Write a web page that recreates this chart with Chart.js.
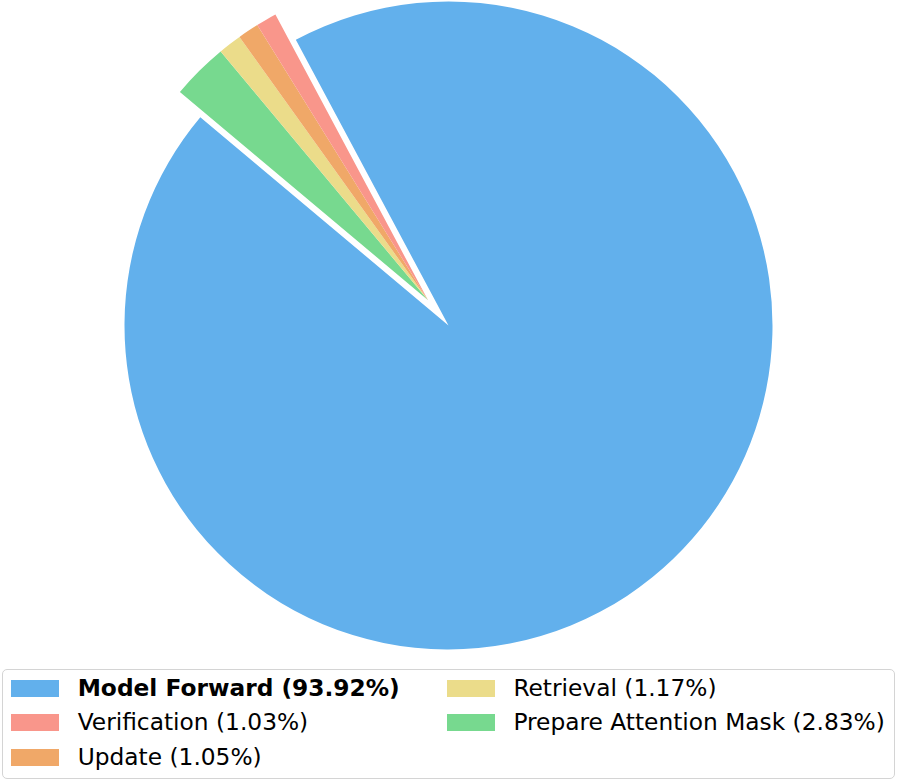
<!DOCTYPE html>
<html>
<head>
<meta charset="utf-8">
<script src="https://cdn.jsdelivr.net/npm/chart.js@4.4.0/dist/chart.umd.min.js"></script>
<style>
  html, body { margin: 0; padding: 0; background: #fff; }
  body { width: 897px; height: 782px; position: relative; overflow: hidden; font-family: "DejaVu Sans", sans-serif; }
  #wrap { position: absolute; left: 0; top: 0; width: 897px; height: 660px; }
  #legend { position: absolute; left: 2px; top: 669px; width: 893px; height: 110px; box-sizing: border-box;
            border: 1.5px solid #d4d4d4; border-radius: 5px; }
  .item { position: absolute; height: 34.5px; line-height: 34.5px; font-size: 23.3px; color: #000; white-space: nowrap; }
  .item .sw { position: absolute; left: 0; top: 9.2px; width: 48px; height: 17px; }
  .item .tx { position: absolute; top: 0; }
</style>
</head>
<body>
<div id="wrap"><canvas id="pie"></canvas></div>
<div id="legend"></div>
<div id="items"></div>
<script>
// dados do grafico (ordem da legenda)
const labels = ['Model Forward', 'Verification', 'Update', 'Retrieval', 'Prepare Attention Mask'];
const shares = [93.92, 1.03, 1.05, 1.17, 2.83];
const colors = ['#62b0ec', '#f9968b', '#f0a868', '#ebdc8a', '#77d98f'];
const explode = [0, 0.1, 0.1, 0.1, 0.1];
const startAngle = 140; // graus, sentido anti-horario como no original

// Chart.js desenha no sentido horario: inverte a ordem
const order = labels.map((_, i) => labels.length - 1 - i);
const pieExplode = order.map(i => explode[i]);

// desloca o grupo de fatias pequenas junto, pela bissetriz do grupo
const explodePlugin = {
    id: 'explodeGroup',
    afterDatasetUpdate(chart, args) {
        const els = args.meta.data;
        let a0 = Infinity, a1 = -Infinity, r = 0;
        els.forEach((el, i) => {
            if (pieExplode[i] > 0) {
                a0 = Math.min(a0, el.startAngle);
                a1 = Math.max(a1, el.endAngle);
                r = el.outerRadius;
            }
        });
        if (!isFinite(a0)) return;
        const mid = (a0 + a1) / 2;
        els.forEach((el, i) => {
            if (pieExplode[i] > 0) {
                el.x += Math.cos(mid) * pieExplode[i] * r;
                el.y += Math.sin(mid) * pieExplode[i] * r;
            }
        });
    }
};

new Chart(document.getElementById('pie'), {
    type: 'pie',
    data: {
        labels: order.map(i => labels[i]),
        datasets: [{
            data: order.map(i => shares[i]),
            backgroundColor: order.map(i => colors[i]),
            borderWidth: 0,
            hoverOffset: 0
        }]
    },
    options: {
        responsive: true,
        maintainAspectRatio: false,
        animation: false,
        rotation: 90 - startAngle,
        layout: { padding: { left: 124.5, right: 124.5, top: 1.5, bottom: 10.5 } },
        plugins: {
            legend: { display: false },
            tooltip: { enabled: false }
        }
    },
    plugins: [explodePlugin]
});

// legenda em duas colunas (preenchida por coluna)
const items = document.getElementById('items');
const colSwatchX = [11, 446.7];
const textShift = 66.7;
labels.forEach((label, i) => {
    const col = Math.floor(i / 3);
    const row = i % 3;
    const div = document.createElement('div');
    div.className = 'item';
    div.style.left = colSwatchX[col] + 'px';
    div.style.top = (670.8 + row * 34.5) + 'px';
    const sw = document.createElement('span');
    sw.className = 'sw';
    sw.style.background = colors[i];
    const tx = document.createElement('span');
    tx.className = 'tx';
    tx.style.left = textShift + 'px';
    tx.textContent = label + ' (' + shares[i].toFixed(2) + '%)';
    if (i === 0) tx.style.fontWeight = 'bold';
    div.appendChild(sw);
    div.appendChild(tx);
    items.appendChild(div);
});
</script>
</body>
</html>
